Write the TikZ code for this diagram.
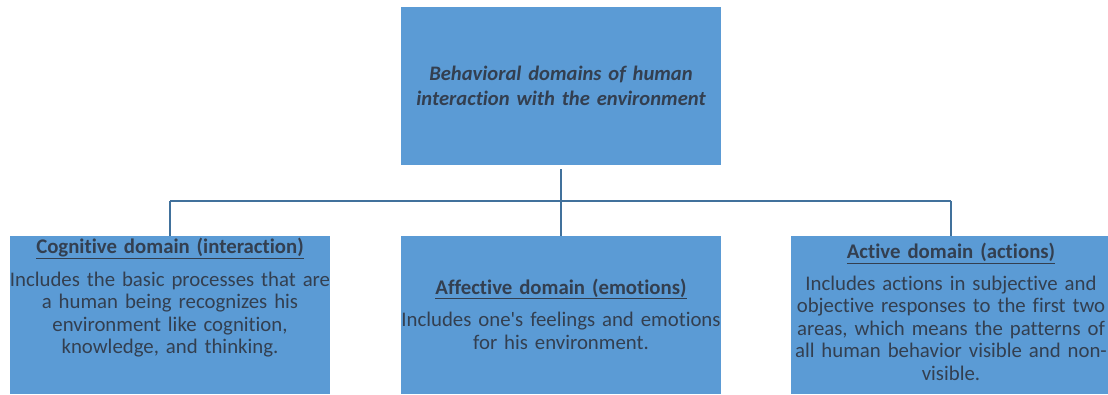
\documentclass[tikz,border=0pt]{standalone}
\usepackage{fontspec}
\setmainfont{Carlito}[Ligatures={TeX,NoCommon}]
\definecolor{boxfill}{HTML}{5B9BD5}
\definecolor{boxline}{HTML}{41719C}
\definecolor{txt}{HTML}{333F50}
\begin{document}
\begin{tikzpicture}[x=1pt,y=1pt,
  dbox/.style={fill=boxfill,draw=none,minimum width=320pt,minimum height=158pt,inner sep=0pt},
  dtext/.style={text=txt,text width=340pt,align=center,font=\fontsize{20.8}{22.5}\selectfont,inner sep=0pt},
  conn/.style={draw=boxline,line width=2.2pt}]
\useasboundingbox (0,0) rectangle (1108,394);
\node[dbox] (top) at (561,308) {};
\node[dbox] (b1) at (170,79) {};
\node[dbox] (b2) at (561,79) {};
\node[dbox] (b3) at (951,79) {};
\node[dtext,font=\fontsize{20.6}{25}\selectfont\bfseries\itshape] (tt) at (top) {Behavioral domains of human\\interaction with the environment};
\node[dtext,anchor=north] (t1) at (170,156) {\textbf{\underline{Cognitive domain (interaction)}}\\[10pt]Includes the basic processes that are\\a human being recognizes his\\environment like cognition,\\knowledge, and thinking.};
\node[dtext] (t2) at (561,80) {\textbf{\underline{Affective domain (emotions)}}\\[10pt]Includes one\textquotesingle s feelings and emotions\\for his environment.};
\node[dtext,anchor=north] (t3) at (951,151) {\textbf{\underline{Active domain (actions)}}\\[9pt]Includes actions in subjective and\\objective responses to the first two\\areas, which means the patterns of\\all human behavior visible and non-\\visible.};
\coordinate (j) at (561,193);
\draw[conn] ([yshift=-4pt]top.south) -- (j);
\draw[conn] (j -| b1.north) -- (j -| b3.north);
\draw[conn] (j -| b1.north) -- (b1.north);
\draw[conn] (j) -- (b2.north);
\draw[conn] (j -| b3.north) -- (b3.north);
\end{tikzpicture}
\end{document}
